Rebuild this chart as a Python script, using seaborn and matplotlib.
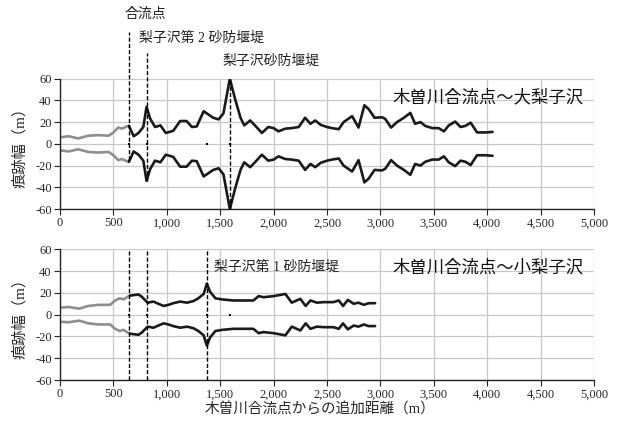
import numpy as np
import pandas as pd
import matplotlib
matplotlib.use('Agg')
import matplotlib.pyplot as plt
from matplotlib.ticker import FuncFormatter, MultipleLocator
import seaborn as sns

# 木曽川合流点～大梨子沢 (distance m, half width m)
dist_top = [0, 80, 170, 265, 360, 455, 500, 545, 580, 625,
            645, 690, 735, 780, 810, 845, 890, 940, 990, 1060,
            1125, 1185, 1235, 1280, 1345, 1435, 1485, 1530, 1590, 1640,
            1690, 1725, 1780, 1830, 1890, 1950, 2000, 2045, 2110, 2170,
            2235, 2295, 2345, 2390, 2440, 2500, 2545, 2610, 2655, 2735,
            2795, 2850, 2890, 2945, 3015, 3045, 3100, 3155, 3220, 3280,
            3325, 3375, 3420, 3485, 3545, 3595, 3640, 3700, 3750, 3795,
            3845, 3905, 3985, 4050]
width_top = [6, 7, 5, 7.5, 8, 7.5, 10.5, 15, 14, 16,
             16.5, 7, 10, 15.5, 34, 23, 15.5, 17, 10, 12,
             21, 21, 15.5, 16, 30, 24, 22.5, 28, 60, 41,
             24, 17, 21.5, 16.5, 10, 15.5, 14.5, 11.5, 14, 14.5,
             15.5, 24, 18.5, 21.5, 17.5, 15.5, 14.5, 13.5, 20, 25.5,
             15, 35.5, 32, 24, 24.5, 23, 15, 20, 24, 28.5,
             18.5, 20, 16.5, 14.5, 14.5, 11.5, 17, 20.5, 15.5, 16.5,
             19.5, 10.5, 10.5, 11]

# 木曽川合流点～小梨子沢
dist_bot = [0, 80, 180, 265, 360, 470, 515, 560, 595, 635,
            655, 735, 765, 820, 875, 920, 970, 1015, 1060, 1125,
            1190, 1250, 1295, 1345, 1375, 1405, 1455, 1515, 1625, 1750,
            1810, 1860, 1905, 2000, 2110, 2170, 2250, 2300, 2345, 2405,
            2470, 2560, 2610, 2650, 2695, 2750, 2795, 2845, 2890, 2950]
width_bot = [6.5, 7, 5.5, 8, 9, 9, 13, 15, 14, 16.5,
             17.5, 18.5, 16.5, 11, 12, 10, 8, 9, 10.5, 12,
             11, 12.5, 15, 19, 28.5, 21, 15, 14, 13, 13,
             13, 17, 16, 17, 19, 11, 14.5, 8, 13, 11,
             11.5, 11.5, 13, 8, 13.5, 10, 11, 9, 10.5, 10.5]

# structure positions on the centre line
feature_dist = [650, 810, 1380, 1590]
confluence = 645

title_top = '木曽川合流点～大梨子沢'
title_bot = '木曽川合流点～小梨子沢'


def profile(dist, width, split_at=confluence):
    dist = np.asarray(dist, dtype=float)
    width = np.asarray(width, dtype=float)
    k = np.searchsorted(dist, split_at)
    parts = []
    for part, sl in (('up', slice(0, k + 1)), ('main', slice(k, None))):
        for side, sign in (('upper', 1), ('lower', -1)):
            parts.append(pd.DataFrame({'dist': dist[sl], 'width': sign * width[sl],
                                       'part': part, 'side': side}))
    return pd.concat(parts, ignore_index=True)


sns.set_style('whitegrid', {'grid.color': '#c8c8c8', 'axes.edgecolor': '#222222'})
plt.rcParams['font.family'] = ['Liberation Serif', 'Noto Sans CJK JP']
plt.rcParams['axes.unicode_minus'] = False

fig = plt.figure(figsize=(6.22, 4.29), dpi=100)
ax1 = fig.add_axes([0.0965, 0.5128, 0.8585, 0.3038])
ax2 = fig.add_axes([0.0965, 0.1142, 0.8585, 0.3047])

pal = {'up': '#8e8e8e', 'main': '#1a1a1a'}
for ax, d, w in ((ax1, dist_top, width_top), (ax2, dist_bot, width_bot)):
    sns.lineplot(data=profile(d, w), x='dist', y='width', hue='part', units='side',
                 estimator=None, palette=pal, lw=1.9, legend=False, ax=ax)
    sns.scatterplot(x=feature_dist, y=[0] * len(feature_dist), marker='s', s=4,
                    color='k', linewidth=0, ax=ax, zorder=5)
    ax.set_xlim(0, 5000)
    ax.set_ylim(-60, 60)
    ax.xaxis.set_major_locator(MultipleLocator(500))
    ax.yaxis.set_major_locator(MultipleLocator(20))
    ax.xaxis.set_major_formatter(FuncFormatter(lambda v, _: f'{int(v):,}'))
    ax.tick_params(labelsize=9, length=4, width=0.8, color='#222222', direction='out',
                   left=True, bottom=True, pad=2)
    ax.grid(True, lw=0.9)
    for s in ('top', 'right'):
        ax.spines[s].set_visible(False)
    for s in ('left', 'bottom'):
        ax.spines[s].set_linewidth(1.0)
    ax.set_ylabel('痕跡幅（m）', fontsize=11)
    ax.yaxis.set_label_coords(-0.062, 0.5)

ax1.set_xlabel('')
ax2.set_xlabel('木曽川合流点からの追加距離（m）', fontsize=10.5)
ax2.xaxis.set_label_coords(0.487, -0.17)

# dashed leader lines
dash = dict(colors='k', linestyles=(0, (3, 1.5)), lw=1.0, zorder=4, clip_on=False)
ax1.vlines(650, -15, 103, **dash)
ax1.vlines(810, -34, 84, **dash)
ax1.vlines(1590, -60, 60, **dash)
ax2.vlines([650, 810, 1380], -60, 60, **dash)

ann = dict(fontsize=10, va='center', ha='left', color='#222222', clip_on=False)
ax1.text(600, 119, '合流点', **ann)
ax1.text(740, 97.5, '梨子沢第 2 砂防堰堤', **ann)
ax1.text(1525, 76, '梨子沢砂防堰堤', **ann)
ax2.text(1445, 43.5, '梨子沢第 1 砂防堰堤', **ann)

box = dict(fontsize=12.5, va='center', ha='left', color='#111111',
           family=['Noto Sans CJK JP', 'DejaVu Sans'])
ax1.text(3110, 43, title_top, **box)
ax2.text(3110, 43.5, title_bot, **box)

fig.savefig('out.png', dpi=100)
